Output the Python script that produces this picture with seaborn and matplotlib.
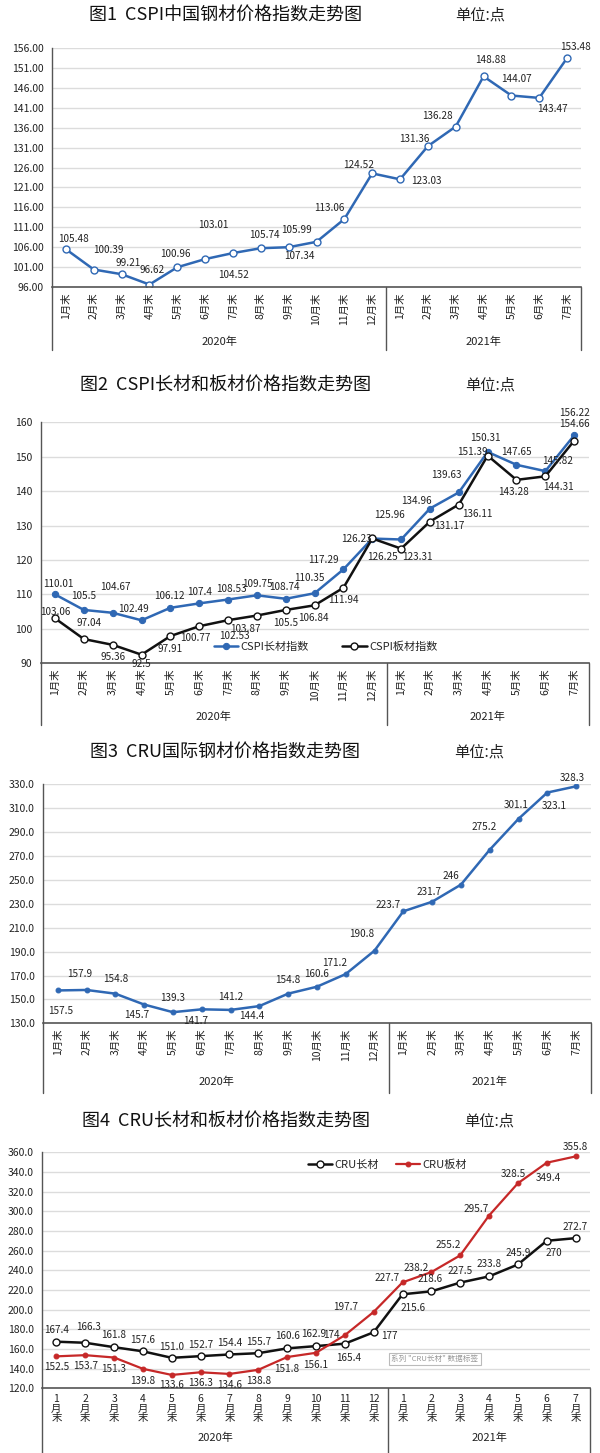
import matplotlib
matplotlib.use('Agg')
import matplotlib.pyplot as plt
import numpy as np
import seaborn as sns

sns.set_theme(style='white')
plt.rcParams['font.family'] = ['Noto Sans CJK SC', 'DejaVu Sans']

# categories
months = ['1月末', '2月末', '3月末', '4月末', '5月末', '6月末', '7月末', '8月末', '9月末', '10月末', '11月末', '12月末',
          '1月末', '2月末', '3月末', '4月末', '5月末', '6月末', '7月末']
years = ['2020年', '2021年']
n2020 = 12

# fig 1 - CSPI
cspi = [105.48, 100.39, 99.21, 96.62, 100.96, 103.01, 104.52, 105.74, 105.99, 107.34, 113.06, 124.52,
        123.03, 131.36, 136.28, 148.88, 144.07, 143.47, 153.48]
# fig 2 - CSPI long / flat
cspi_long = [110.01, 105.5, 104.67, 102.49, 106.12, 107.4, 108.53, 109.75, 108.74, 110.35, 117.29, 126.23,
             125.96, 134.96, 139.63, 151.39, 147.65, 145.82, 156.22]
cspi_flat = [103.06, 97.04, 95.36, 92.5, 97.91, 100.77, 102.53, 103.87, 105.5, 106.84, 111.94, 126.25,
             123.31, 131.17, 136.11, 150.31, 143.28, 144.31, 154.66]
# fig 3 - CRU
cru = [157.5, 157.9, 154.8, 145.7, 139.3, 141.7, 141.2, 144.4, 154.8, 160.6, 171.2, 190.8,
       223.7, 231.7, 246, 275.2, 301.1, 323.1, 328.3]
# fig 4 - CRU long / flat
cru_long = [167.4, 166.3, 161.8, 157.6, 151.0, 152.7, 154.4, 155.7, 160.6, 162.9, 165.4, 177,
            215.6, 218.6, 227.5, 233.8, 245.9, 270, 272.7]
cru_long_text = ['167.4', '166.3', '161.8', '157.6', '151.0', '152.7', '154.4', '155.7', '160.6', '162.9',
                 '165.4', '177', '215.6', '218.6', '227.5', '233.8', '245.9', '270', '272.7']
cru_flat = [152.5, 153.7, 151.3, 139.8, 133.6, 136.3, 134.6, 138.8, 151.8, 156.1, 174, 197.7,
            227.7, 238.2, 255.2, 295.7, 328.5, 349.4, 355.8]

# label offsets in pixels (dx, dy up)
off1 = [(8, 10), (15, 20), (7, 11), (3, 15), (-2, 13), (8, 34), (1, -22), (4, 13), (8, 17), (-17, -14),
        (-15, 11), (-14, 8), (26, -2), (-14, 7), (-18, 11), (7, 16), (5, 17), (13, -11), (8, 11)]
off2a = [(3, 10), (0, 14), (3, 26), (-8, 11), (-1, 12), (0, 11), (3, 11), (1, 11), (-1, 12), (-5, 15),
         (-20, 9), (-16, 0), (-12, 24), (-14, 8), (-12, 17), (-15, 0), (0, 13), (12, 10), (0, 22)]
off2b = [(0, 6), (5, 16), (0, -12), (0, -9), (0, -13), (-4, -12), (6, -16), (-12, -13), (0, -13), (-1, -13),
         (0, -12), (10, -19), (16, -8), (19, -4), (19, -9), (-2, 18), (-3, -12), (13, -11), (0, 17)]
off3 = [(3, -21), (-7, 16), (0, 15), (-7, -10), (0, 14), (-6, -12), (0, 13), (-8, -10), (0, 14), (0, 13),
        (-11, 11), (-13, 17), (-15, 6), (-3, 10), (-10, 9), (-6, 23), (-2, 14), (7, -13), (-4, 8)]
off4a = [(0, 12), (3, 16), (0, 12), (0, 11), (0, 11), (0, 11), (0, 11), (0, 11), (0, 12), (-2, 12),
         (4, -14), (16, -4), (11, -14), (-1, 12), (0, 12), (0, 12), (0, 11), (7, -12), (0, 11)]
off4b = [(0, -11), (0, -11), (0, -11), (0, -12), (0, -10), (0, -11), (0, -11), (0, -11), (0, -12), (0, -12),
         (-13, 0), (-28, 5), (-15, 4), (-15, 4), (-12, 10), (-13, 7), (-5, 9), (2, -15), (0, 9)]

W, H = 600, 1453
fig = plt.figure(figsize=(W / 100, H / 100), dpi=100)

BLUE = '#2f68b4'
RED = '#c62828'
BLACK = '#111111'
x = np.arange(len(months))


def make_ax(left, right, top, bottom):
    return fig.add_axes([left / W, (H - bottom) / H, (right - left) / W, (bottom - top) / H])


def frame(ax, yticks, fmt, frame_px, year_px, plot_h, labels, rot=90):
    ax.set_xlim(-0.5, len(months) - 0.5)
    ax.set_ylim(yticks[0], yticks[-1])
    ax.set_yticks(yticks)
    ax.set_yticklabels([fmt.format(v) for v in yticks], fontsize=7.5, color='#222222')
    ax.set_xticks(x)
    ax.set_xticklabels(labels, rotation=rot, fontsize=7.5, color='#222222', va='top',
                       linespacing=0.95)
    ax.tick_params(axis='x', length=0, pad=4)
    ax.tick_params(axis='y', length=0, pad=6)
    ax.grid(axis='y', color='#dcdcdc', lw=1)
    ax.set_axisbelow(True)
    for s in ['top', 'right']:
        ax.spines[s].set_visible(False)
    ax.spines['left'].set_color('#555555')
    ax.spines['bottom'].set_color('#555555')
    ax.spines['left'].set_linewidth(1)
    ax.spines['bottom'].set_linewidth(1.2)
    ax.set_xlabel('')
    ax.set_ylabel('')
    tr = ax.get_xaxis_transform()
    fb = -frame_px / plot_h
    for xv in [-0.5, n2020 - 0.5, len(months) - 0.5]:
        ax.plot([xv, xv], [0, fb], transform=tr, color='#555555', lw=1, clip_on=False)
    yb = -year_px / plot_h
    ax.text((n2020 - 1) / 2, yb, years[0], transform=tr, ha='center', va='center', fontsize=8, color='#222222')
    ax.text((n2020 + len(months) - 1) / 2, yb, years[1], transform=tr, ha='center', va='center',
            fontsize=8, color='#222222')


def labels_on(ax, vals, offs, texts=None):
    for i, (v, (dx, dy)) in enumerate(zip(vals, offs)):
        t = texts[i] if texts else f'{v:g}'
        ax.annotate(t, (i, v), xytext=(dx, dy), textcoords='offset pixels',
                    ha='center', va='center', fontsize=7.2, color='#222222')


def titles(cx, cy, title, ux):
    fig.text(cx / W, 1 - cy / H, title, ha='center', va='center', fontsize=13, color='#111111')
    fig.text(ux / W, 1 - cy / H, '单位:点', ha='center', va='center', fontsize=11, color='#222222')


# ---- fig 1
ax1 = make_ax(52, 581, 48, 287)
sns.lineplot(x=x, y=cspi, ax=ax1, color=BLUE, lw=1.8, marker='o', markersize=5,
             markerfacecolor='white', markeredgecolor=BLUE, markeredgewidth=1)
frame(ax1, list(range(96, 157, 5)), '{:.2f}', 63, 55, 239, months)
labels_on(ax1, cspi, off1, [f'{v:.2f}' for v in cspi])
titles(226, 15, '图1  CSPI中国钢材价格指数走势图', 480)

# ---- fig 2
ax2 = make_ax(40.6, 588.6, 422.3, 663.3)
sns.lineplot(x=x, y=cspi_long, ax=ax2, color=BLUE, lw=1.8, marker='o', markersize=4.5,
             markeredgecolor=BLUE, label='CSPI长材指数')
sns.lineplot(x=x, y=cspi_flat, ax=ax2, color=BLACK, lw=1.8, marker='o', markersize=5,
             markerfacecolor='white', markeredgecolor=BLACK, markeredgewidth=1, label='CSPI板材指数')
frame(ax2, list(range(90, 161, 10)), '{:d}', 62, 54, 241, months)
labels_on(ax2, cspi_long, off2a)
labels_on(ax2, cspi_flat, off2b)
ax2.legend(loc='center', bbox_to_anchor=(0.52, 0.07), ncol=2, frameon=False, fontsize=8,
           handlelength=2.2, columnspacing=3, handletextpad=0.2)
titles(226, 385, '图2  CSPI长材和板材价格指数走势图', 490)

# ---- fig 3
ax3 = make_ax(43.3, 590.5, 784.3, 1023.3)
sns.lineplot(x=x, y=cru, ax=ax3, color=BLUE, lw=1.8, marker='o', markersize=3.5, markeredgecolor=BLUE)
frame(ax3, list(range(130, 331, 20)), '{:.1f}', 70, 58.5, 239, months)
labels_on(ax3, cru, off3)
titles(225, 752, '图3  CRU国际钢材价格指数走势图', 479)

# ---- fig 4
months4 = [m[:-2] + '\n月\n末' for m in months]
ax4 = make_ax(42, 590, 1152.3, 1388.3)
sns.lineplot(x=x, y=cru_long, ax=ax4, color=BLACK, lw=1.8, marker='o', markersize=5,
             markerfacecolor='white', markeredgecolor=BLACK, markeredgewidth=1, label='CRU长材')
sns.lineplot(x=x, y=cru_flat, ax=ax4, color=RED, lw=1.6, marker='o', markersize=3.5,
             markeredgecolor=RED, label='CRU板材')
frame(ax4, list(range(120, 361, 20)), '{:.1f}', 66, 50, 236, months4, rot=0)
labels_on(ax4, cru_long, off4a, cru_long_text)
labels_on(ax4, cru_flat, off4b)
ax4.legend(loc='center', bbox_to_anchor=(0.63, 0.946), ncol=2, frameon=False, fontsize=8,
           handlelength=2.2, columnspacing=1.5, handletextpad=0.2)
ax4.text(0.717, 0.124, '系列 "CRU长材" 数据标签', transform=ax4.transAxes, ha='center', va='center',
         fontsize=5.5, color='#999999',
         bbox=dict(boxstyle='square,pad=0.3', fc='white', ec='#bbbbbb', lw=0.8))
titles(226, 1121, '图4  CRU长材和板材价格指数走势图', 489)

fig.savefig('out.png', dpi=100, facecolor='white')
